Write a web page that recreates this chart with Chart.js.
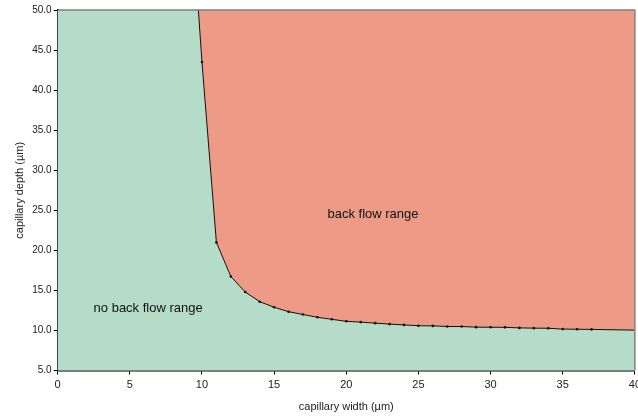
<!doctype html>
<html lang="en">
<head>
  <meta charset="utf-8">
  <script src="https://cdn.jsdelivr.net/npm/chart.js@4.4.1/dist/chart.umd.min.js"></script>
  <title>capillary back flow</title>
  <style>
    html, body { margin: 0; padding: 0; background: #fff; overflow: hidden; }
    #wrap { width: 645px; height: 416px; }
  </style>
</head>
<body>
  <div id="wrap"><canvas id="myChart"></canvas></div>
  <script>
    // boundary between the two ranges (first / last entries are where the line meets the frame)
    const widths = [9.75, 10, 11, 12, 13, 14, 15, 16, 17, 18, 19, 20, 21, 22, 23, 24, 25,
      26, 27, 28, 29, 30, 31, 32, 33, 34, 35, 36, 37, 40];
    const depths = [50, 43.5, 21.0, 16.75, 14.8, 13.6, 12.9, 12.35, 12.0, 11.65, 11.4, 11.15, 11.05,
      10.92, 10.8, 10.7, 10.6, 10.58, 10.5, 10.5, 10.42, 10.41, 10.4, 10.33, 10.3, 10.28, 10.18, 10.16, 10.14, 10.05];
    const xTicks = [0, 5, 10, 15, 20, 25, 30, 35, 40];
    const yTicks = [5, 10, 15, 20, 25, 30, 35, 40, 45, 50];
    const regionNames = ['back flow range', 'no back flow range'];
    const regionX = [21.85, 6.27];
    const regionY = [24.5, 12.75];

    const green = 'rgb(181, 220, 200)';
    const salmon = 'rgb(237, 155, 134)';

    const frame = {
      id: 'frame',
      beforeDatasetsDraw(chart) {
        const { ctx, chartArea: a } = chart;
        ctx.save();
        ctx.fillStyle = green;
        ctx.fillRect(a.left, a.top, a.right - a.left, a.bottom - a.top);
        ctx.restore();
      },
      afterDraw(chart) {
        const { ctx, chartArea: a, scales } = chart;
        ctx.save();
        ctx.strokeStyle = '#808080';
        ctx.lineWidth = 1.5;
        ctx.beginPath();
        ctx.moveTo(a.left, a.top);
        ctx.lineTo(a.right, a.top);
        ctx.lineTo(a.right, a.bottom);
        ctx.stroke();
        ctx.fillStyle = '#111';
        ctx.font = '13px "Liberation Sans", Arial, sans-serif';
        ctx.textAlign = 'center';
        ctx.textBaseline = 'middle';
        regionNames.forEach((t, i) => {
          ctx.fillText(t, scales.x.getPixelForValue(regionX[i]), scales.y.getPixelForValue(regionY[i]));
        });
        ctx.restore();
      }
    };

    const pts = widths.map((w, i) => ({ x: w, y: depths[i] }));

    const config = {
      type: 'line',
      data: {
        datasets: [{
          data: pts,
          borderColor: '#111',
          borderWidth: 1,
          backgroundColor: salmon,
          fill: 'end',
          tension: 0,
          pointRadius: pts.map((p, i) => (i === 0 || i === pts.length - 1) ? 0 : 1.3),
          pointBackgroundColor: '#111',
          pointBorderWidth: 0
        }]
      },
      options: {
        responsive: true,
        maintainAspectRatio: false,
        animation: false,
        layout: { padding: { top: 10, left: 13, bottom: 0, right: 0 } },
        plugins: { legend: { display: false }, tooltip: { enabled: false } },
        scales: {
          x: {
            type: 'linear',
            min: 0, max: 40,
            afterBuildTicks: s => { s.ticks = xTicks.map(v => ({ value: v })); },
            grid: { display: true, drawOnChartArea: false, drawTicks: true, tickLength: 4, color: '#000' },
            border: { color: '#000', width: 1.5 },
            ticks: { color: '#222', font: { family: '"Liberation Sans", Arial', size: 11 }, padding: 4, maxRotation: 0 },
            title: { display: true, text: 'capillary width (µm)', color: '#222', font: { family: '"Liberation Sans", Arial', size: 11 }, padding: { top: 5, bottom: 2 } }
          },
          y: {
            min: 5, max: 50,
            afterBuildTicks: s => { s.ticks = yTicks.map(v => ({ value: v })); },
            grid: { display: true, drawOnChartArea: false, drawTicks: true, tickLength: 4, color: '#000' },
            border: { color: '#000', width: 1.5 },
            ticks: { color: '#222', font: { family: '"Liberation Sans", Arial', size: 10 }, padding: 2, callback: v => v.toFixed(1) },
            title: { display: true, text: 'capillary depth (µm)', color: '#222', font: { family: '"Liberation Sans", Arial', size: 11 }, padding: { top: 0, bottom: 4 } }
          }
        }
      },
      plugins: [frame]
    };

    const ctx = document.getElementById('myChart').getContext('2d');
    const myChart = new Chart(ctx, config);
  </script>
</body>
</html>
